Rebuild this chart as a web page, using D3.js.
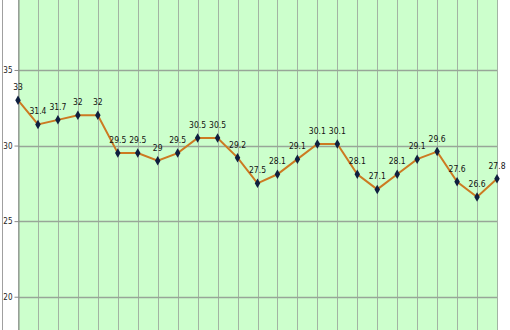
<!DOCTYPE html>
<html><head><meta charset="utf-8">
<script src="https://cdn.jsdelivr.net/npm/d3@7"></script>
<style>html,body{margin:0;padding:0;background:#fff;}svg{display:block;}</style>
</head><body>
<svg id="c" width="510" height="330"></svg>
<script>
const categories = d3.range(1, 26).map(String);
const values = [33, 31.4, 31.7, 32, 32, 29.5, 29.5, 29, 29.5, 30.5, 30.5, 29.2, 27.5, 28.1, 29.1, 30.1, 30.1, 28.1, 27.1, 28.1, 29.1, 29.6, 27.6, 26.6, 27.8];
const yTicks = [20, 25, 30, 35];

const svg = d3.select("#c");
const W = 510, H = 330;
const left = 18, right = 497;
const x = d3.scalePoint().domain(categories).range([left, right]);
const y = d3.scaleLinear().domain([15, 40]).range([372.3, -5.6]);

svg.append("rect").attr("width", W).attr("height", H).attr("fill", "#fff");
svg.append("line").attr("x1", 2.5).attr("x2", 2.5).attr("y1", 0).attr("y2", H).attr("stroke", "#a0a0a0");

svg.append("rect").attr("x", left).attr("y", 0).attr("width", right - left).attr("height", H).attr("fill", "#ccffcc");

// vertical grid
svg.append("g").selectAll("line").data(categories).join("line")
  .attr("x1", d => Math.round(x(d)) + 0.5).attr("x2", d => Math.round(x(d)) + 0.5)
  .attr("y1", 0).attr("y2", H).attr("stroke", "#a3b3a3").attr("stroke-width", 1);

// horizontal grid
svg.append("g").selectAll("line").data(yTicks).join("line")
  .attr("x1", left).attr("x2", right)
  .attr("y1", d => Math.round(y(d)) + 0.5).attr("y2", d => Math.round(y(d)) + 0.5)
  .attr("stroke", "#98a698").attr("stroke-width", 1.5);

// y axis
const ax = svg.append("g").attr("transform", `translate(${left + 0.5},0)`)
  .call(d3.axisLeft(y).tickValues(yTicks).tickSize(4).tickPadding(2).tickFormat(d3.format("d")));
ax.select(".domain").attr("stroke", "#8a8a8a");
ax.selectAll(".tick line").attr("stroke", "#8a8a8a");
ax.selectAll(".tick text").attr("font-family", "'DejaVu Sans Condensed','DejaVu Sans',sans-serif")
  .attr("font-size", 8).attr("fill", "#222");

// line
const line = d3.line().x((d, i) => x(categories[i])).y(d => y(d));
svg.append("path").datum(values).attr("d", line).attr("fill", "none")
  .attr("stroke", "#cc7a22").attr("stroke-width", 2);

// markers
const diamond = d3.symbol().type(d3.symbolDiamond).size(26);
svg.append("g").selectAll("path").data(values).join("path")
  .attr("d", diamond)
  .attr("transform", (d, i) => `translate(${x(categories[i])},${y(d)})`)
  .attr("fill", "#0f1f3f");

// labels
svg.append("g").selectAll("text").data(values).join("text")
  .attr("x", (d, i) => x(categories[i]))
  .attr("y", d => y(d) - 10)
  .attr("text-anchor", "middle")
  .attr("font-family", "'DejaVu Sans Condensed','DejaVu Sans',sans-serif")
  .attr("font-size", 8.5).attr("fill", "#111")
  .text(d => d);
</script>
</body></html>
